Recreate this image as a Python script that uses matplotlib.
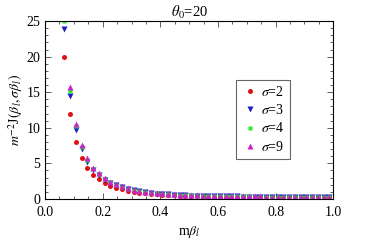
import matplotlib.pyplot as plt
from matplotlib.ticker import MultipleLocator

plt.rcParams['font.family'] = ['Liberation Serif', 'DejaVu Serif']
plt.rcParams['mathtext.fontset'] = 'stix'

x = [0.067, 0.087, 0.107, 0.127, 0.147, 0.167, 0.187, 0.207, 0.227, 0.247,
     0.267, 0.287, 0.307, 0.327, 0.347, 0.367, 0.387, 0.407, 0.427, 0.447,
     0.467, 0.487, 0.507, 0.527, 0.547, 0.567, 0.587, 0.607, 0.627, 0.647,
     0.667, 0.687, 0.707, 0.727, 0.747, 0.767, 0.787, 0.807, 0.827, 0.847,
     0.867, 0.887, 0.907, 0.927, 0.947, 0.967, 0.987]

s2 = [20.0, 12.0, 8.0, 5.8, 4.3, 3.35, 2.75, 2.2, 1.85, 1.58,
      1.35, 1.15, 0.98, 0.87, 0.78, 0.70, 0.63, 0.58, 0.53, 0.49,
      0.45, 0.42, 0.40, 0.38, 0.36, 0.34, 0.33, 0.32, 0.31, 0.30,
      0.29, 0.28, 0.27, 0.26, 0.26, 0.25, 0.25, 0.24, 0.24, 0.23,
      0.23, 0.22, 0.22, 0.22, 0.21, 0.21, 0.21]
s3 = [23.9, 14.5, 9.7, 7.0, 5.2, 4.05, 3.3, 2.65, 2.25, 1.9,
      1.63, 1.4, 1.19, 1.05, 0.94, 0.85, 0.76, 0.70, 0.64, 0.59,
      0.54, 0.51, 0.48, 0.46, 0.44, 0.42, 0.40, 0.39, 0.37, 0.36,
      0.35, 0.34, 0.33, 0.32, 0.31, 0.30, 0.30, 0.29, 0.29, 0.28,
      0.28, 0.27, 0.27, 0.26, 0.26, 0.26, 0.25]
s4 = [25.0, 15.2, 10.2, 7.35, 5.45, 4.25, 3.5, 2.8, 2.35, 2.0,
      1.71, 1.46, 1.24, 1.10, 0.99, 0.89, 0.80, 0.74, 0.67, 0.62,
      0.57, 0.54, 0.51, 0.48, 0.46, 0.44, 0.42, 0.41, 0.39, 0.38,
      0.37, 0.36, 0.35, 0.34, 0.33, 0.32, 0.32, 0.31, 0.30, 0.30,
      0.29, 0.29, 0.28, 0.28, 0.28, 0.27, 0.27]
s9 = [26.4, 15.8, 10.6, 7.65, 5.7, 4.4, 3.6, 2.9, 2.45, 2.1,
      1.78, 1.52, 1.29, 1.15, 1.03, 0.92, 0.83, 0.77, 0.70, 0.65,
      0.60, 0.56, 0.53, 0.50, 0.48, 0.46, 0.44, 0.42, 0.41, 0.40,
      0.39, 0.38, 0.37, 0.36, 0.35, 0.34, 0.33, 0.33, 0.32, 0.31,
      0.31, 0.30, 0.30, 0.29, 0.29, 0.29, 0.28]

fig = plt.figure(figsize=(3.92, 2.45), dpi=100)
ax = fig.add_axes([0.115, 0.188, 0.735, 0.726])

ax.plot(x, s2, 'o', color='#e01010', ms=3.6, mec='none', label=r'$\sigma$=2')
ax.plot(x, s3, 'v', color='#1a1acc', ms=3.8, mec='none', label=r'$\sigma$=3')
ax.plot(x, s4, 's', color='#22ee22', ms=3.4, mec='none', label=r'$\sigma$=4')
ax.plot(x, s9, '^', color='#cc22cc', ms=3.8, mec='none', label=r'$\sigma$=9')

ax.set_xlim(0, 1.0)
ax.set_ylim(0, 25)
ax.xaxis.set_major_locator(MultipleLocator(0.2))
ax.xaxis.set_minor_locator(MultipleLocator(0.05))
ax.yaxis.set_major_locator(MultipleLocator(5))
ax.yaxis.set_minor_locator(MultipleLocator(1))
ax.xaxis.set_major_formatter(plt.FuncFormatter(lambda v, p: '%.1f' % v))
ax.tick_params(which='both', direction='in', top=True, right=True,
               labelsize=10, width=0.6, color='#444444')
ax.tick_params(which='major', length=4)
ax.tick_params(which='minor', length=2)
ax.tick_params(axis='x', pad=5)
for sp in ax.spines.values():
    sp.set_linewidth(0.8)

ax.set_title(r'$\theta_0$=20', fontsize=10.5, pad=3)
ax.set_xlabel(r'm$\beta_l$', fontsize=10, labelpad=4)
ax.set_ylabel(r'$m^{-2}$J$(\beta_l,\sigma\beta_l)$', fontsize=10, labelpad=1)

leg = ax.legend(loc='upper left', bbox_to_anchor=(0.64, 0.71), fontsize=10,
                handletextpad=0.2, handlelength=1.2, borderpad=0.4,
                labelspacing=0.3, fancybox=False, framealpha=1,
                edgecolor='#666666')
leg.get_frame().set_linewidth(0.8)

fig.savefig('out.png', dpi=100)
